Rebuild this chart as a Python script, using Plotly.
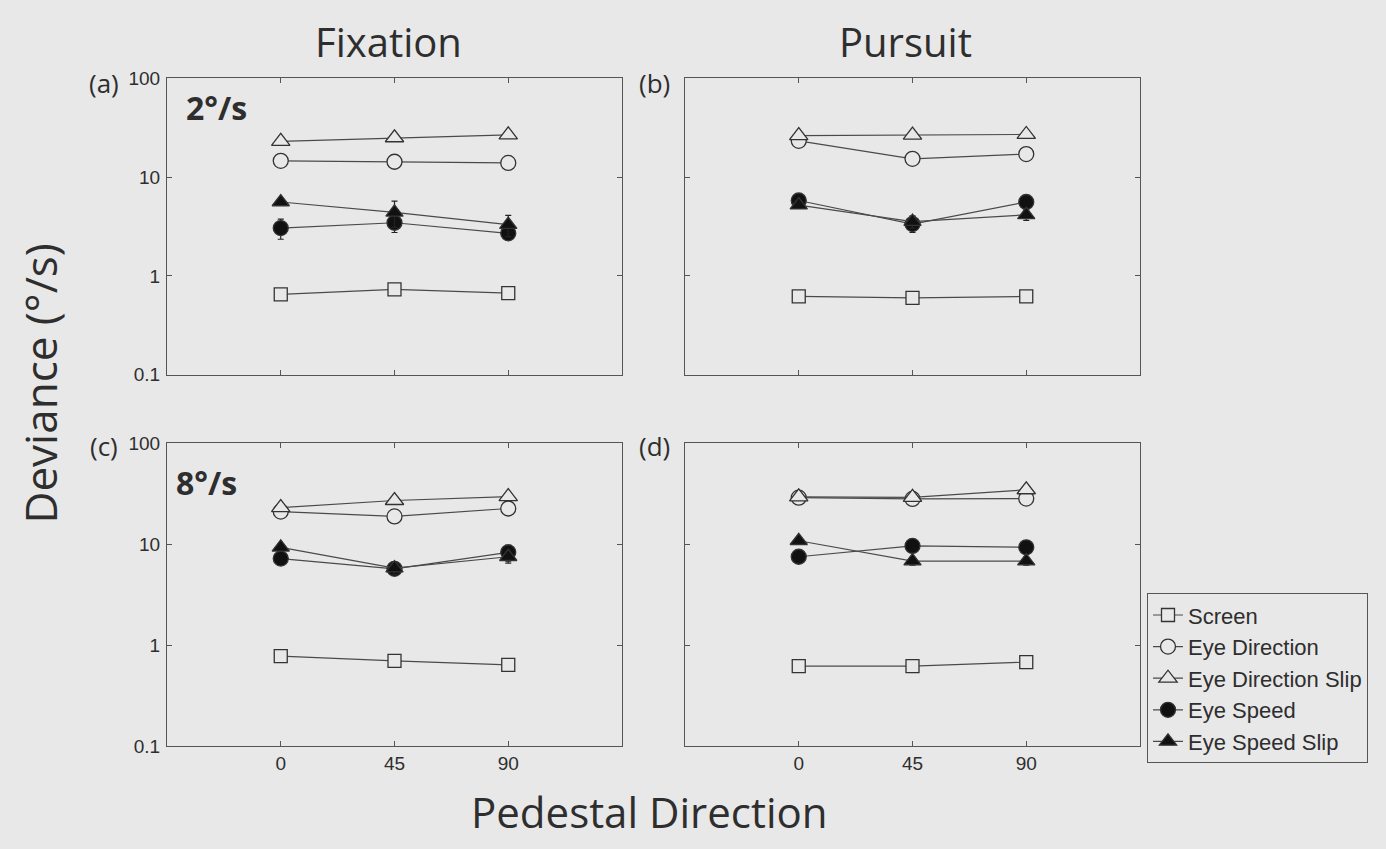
import plotly.graph_objects as go

# ---------------- data ----------------
directions = [0, 45, 90]
series_names = ["Screen", "Eye Direction", "Eye Direction Slip", "Eye Speed", "Eye Speed Slip"]

# panel (a) Fixation 2°/s
a_screen = [0.65, 0.73, 0.67]
a_eyedir = [14.6, 14.3, 13.9]
a_eyedir_slip = [23.0, 25.0, 26.8]
a_speed = [3.05, 3.45, 2.7]
a_speed_slip = [5.6, 4.4, 3.3]
a_speed_err = [0.7, 0.7, 0.3]
a_speed_slip_err = [0.4, 1.3, 0.8]

# panel (b) Pursuit 2°/s
b_screen = [0.62, 0.60, 0.62]
b_eyedir = [23.3, 15.3, 17.1]
b_eyedir_slip = [26.3, 26.6, 27.0]
b_speed = [5.8, 3.35, 5.6]
b_speed_slip = [5.2, 3.55, 4.15]
b_speed_err = [0.3, 0.6, 0.3]
b_speed_slip_err = [0.3, 0.5, 0.5]

# panel (c) Fixation 8°/s
c_screen = [0.78, 0.70, 0.64]
c_eyedir = [21.0, 18.8, 22.5]
c_eyedir_slip = [23.0, 27.0, 29.5]
c_speed = [7.2, 5.7, 8.3]
c_speed_slip = [9.3, 5.8, 7.5]
c_speed_err = [0.6, 0.5, 1.5]
c_speed_slip_err = [0.5, 0.8, 1.0]

# panel (d) Pursuit 8°/s
d_screen = [0.62, 0.62, 0.68]
d_eyedir = [28.8, 28.0, 28.2]
d_eyedir_slip = [29.3, 29.0, 34.5]
d_speed = [7.5, 9.6, 9.3]
d_speed_slip = [10.8, 6.8, 6.8]
d_speed_err = [0.4, 0.6, 0.6]
d_speed_slip_err = [0.3, 0.6, 0.6]

y_ticks = [0.1, 1, 10, 100]
y_tick_text = ["0.1", "1", "10", "100"]
x_tick_text = ["0", "45", "90"]

BG = "#e8e8e8"
INK = "#2e2e2e"
LINE = "#4a4a4a"

panels = [
    (dict(s=a_screen, ed=a_eyedir, eds=a_eyedir_slip, sp=a_speed, sps=a_speed_slip,
          spe=a_speed_err, spse=a_speed_slip_err), "x", "y"),
    (dict(s=b_screen, ed=b_eyedir, eds=b_eyedir_slip, sp=b_speed, sps=b_speed_slip,
          spe=b_speed_err, spse=b_speed_slip_err), "x2", "y2"),
    (dict(s=c_screen, ed=c_eyedir, eds=c_eyedir_slip, sp=c_speed, sps=c_speed_slip,
          spe=c_speed_err, spse=c_speed_slip_err), "x3", "y3"),
    (dict(s=d_screen, ed=d_eyedir, eds=d_eyedir_slip, sp=d_speed, sps=d_speed_slip,
          spe=d_speed_err, spse=d_speed_slip_err), "x4", "y4"),
]

styles = [
    ("s", "square", BG, 13, None),
    ("ed", "circle", BG, 15, None),
    ("eds", "triangle-up", BG, 16, None),
    ("sp", "circle", "#111111", 15, "spe"),
    ("sps", "triangle-up", "#111111", 15, "spse"),
]

fig = go.Figure()
for pi, (d, xa, ya) in enumerate(panels):
    for si, (key, sym, fill, size, errkey) in enumerate(styles):
        kw = {}
        if errkey is not None:
            kw["error_y"] = dict(type="data", array=d[errkey], visible=True,
                                 color="#222222", thickness=1.2, width=3)
        fig.add_trace(go.Scatter(
            x=directions, y=d[key], mode="lines+markers",
            name=series_names[si], legendgroup=series_names[si],
            showlegend=(pi == 0),
            line=dict(color=LINE, width=1.2),
            marker=dict(symbol=sym, size=size, color=fill,
                        line=dict(color="#333333", width=1.3)),
            xaxis=xa, yaxis=ya, **kw))

W, H = 1386, 849
def px(x): return x / W
def py(y): return (H - y) / H

xdom_left = [px(167), px(622)]
xdom_right = [px(685), px(1140)]
ydom_top = [py(374), py(70)]
ydom_bot = [py(755), py(444)]

axis_common = dict(showline=True, linecolor="#555555", linewidth=1.2, mirror="allticks",
                   ticks="inside", ticklen=5, tickcolor="#555555", showgrid=False,
                   zeroline=False, tickfont=dict(family="Arial, Liberation Sans", size=19, color=INK))

def xax(dom, anchor, labels):
    return dict(domain=dom, anchor=anchor, range=[-45, 135], tickvals=directions,
                ticktext=x_tick_text, showticklabels=labels, **axis_common)

def yax(dom, anchor, labels):
    return dict(domain=dom, anchor=anchor, type="log", range=[-1, 2], tickvals=y_ticks,
                ticktext=y_tick_text, showticklabels=labels, ticklabelstandoff=2, **axis_common)

fig.update_layout(
    width=W, height=H, margin=dict(l=0, r=0, t=0, b=0),
    paper_bgcolor=BG, plot_bgcolor=BG,
    xaxis=xax(xdom_left, "y", False), yaxis=yax(ydom_top, "x", True),
    xaxis2=xax(xdom_right, "y2", False), yaxis2=yax(ydom_top, "x2", False),
    xaxis3=xax(xdom_left, "y3", True), yaxis3=yax(ydom_bot, "x3", True),
    xaxis4=xax(xdom_right, "y4", True), yaxis4=yax(ydom_bot, "x4", False),
    legend=dict(x=px(1147), y=py(598), xanchor="left", yanchor="top",
                bgcolor=BG, bordercolor="#555555", borderwidth=1,
                font=dict(family="Arial, Liberation Sans", size=22, color=INK),
                tracegroupgap=0, itemwidth=30),
    showlegend=True,
)

ann_font = "Open Sans"
anns = [
    dict(text="Fixation", x=px(388), y=py(32), size=40),
    dict(text="Pursuit", x=px(906), y=py(32), size=40),
    dict(text="Pedestal Direction", x=px(649), y=py(822), size=42),
    dict(text="(a)", x=px(104), y=py(75), size=26),
    dict(text="(b)", x=px(654), y=py(75), size=26),
    dict(text="(c)", x=px(104), y=py(447), size=26),
    dict(text="(d)", x=px(654), y=py(447), size=26),
    dict(text="<b>2°/s</b>", x=px(216), y=py(100), size=32),
    dict(text="<b>8°/s</b>", x=px(206), y=py(484), size=32),
]
for a in anns:
    fig.add_annotation(text=a["text"], x=a["x"], y=a["y"], xref="paper", yref="paper",
                       showarrow=False, xanchor="center", yanchor="middle",
                       font=dict(family=ann_font, size=a["size"], color=INK))
fig.add_annotation(text="Deviance (°/s)", x=px(40), y=py(383), xref="paper", yref="paper",
                   showarrow=False, textangle=-90, xanchor="center", yanchor="middle",
                   font=dict(family=ann_font, size=44, color=INK))

fig.write_html("out.html")
